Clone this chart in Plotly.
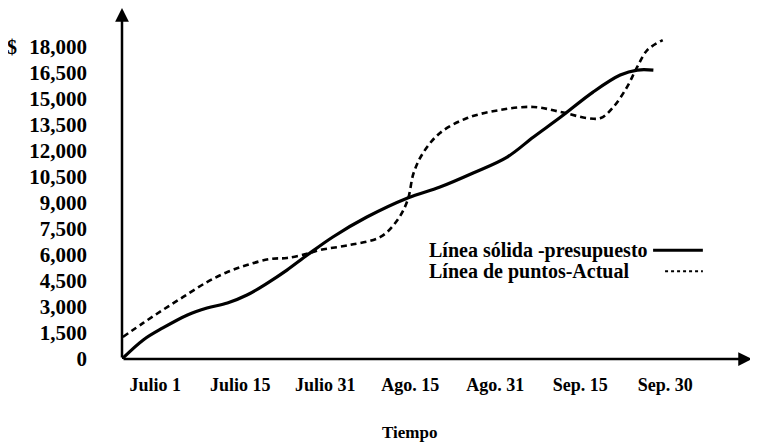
"""Presupuesto vs. actual: budget (solid) and actual (dotted) cumulative spend."""

import plotly.graph_objects as go

# x positions: 1 = Julio 1 ... 7 = Sep. 30
PERIOD_LABELS = ["Julio 1", "Julio 15", "Julio 31", "Ago. 15", "Ago. 31", "Sep. 15", "Sep. 30"]
PERIOD_POS = [1, 2, 3, 4, 5, 6, 7]

Y_TICKS = [0, 1500, 3000, 4500, 6000, 7500, 9000, 10500, 12000, 13500, 15000, 16500, 18000]
Y_TICK_TEXT = ["0", "1,500", "3,000", "4,500", "6,000", "7,500", "9,000", "10,500",
               "12,000", "13,500", "15,000", "16,500", "18,000"]

budget_x = [0.61, 0.86, 1.09, 1.38, 1.61, 1.85, 2.08, 2.32, 2.55, 2.79, 3.09, 3.49,
            3.97, 4.35, 4.74, 5.14, 5.45, 5.77, 6.15, 6.47, 6.67, 6.86]
budget_y = [0, 1100, 1790, 2540, 2940, 3230, 3690, 4380, 5130, 6000, 7040, 8190,
            9290, 9920, 10730, 11650, 12810, 13960, 15400, 16380, 16670, 16670]

actual_x = [0.62, 0.86, 1.09, 1.33, 1.61, 1.85, 2.08, 2.35, 2.55, 2.82, 2.94, 3.29,
            3.65, 3.85, 3.97, 4.04, 4.15, 4.35, 4.67, 5.06, 5.45, 5.77, 6.08, 6.24,
            6.39, 6.55, 6.67, 6.79, 6.97]
actual_y = [1270, 2080, 2830, 3580, 4440, 5020, 5420, 5770, 5830, 6110, 6290, 6580,
            7040, 8020, 9170, 10730, 11880, 13040, 13900, 14370, 14540, 14250, 13900,
            13900, 14540, 15690, 16850, 17830, 18400]

X_MIN, X_MAX = 0.61, 8.02
Y_MAX = 20250

SERIF = "Liberation Serif, Times New Roman, serif"
FONT = dict(family=SERIF, size=17, color="black", weight="bold")
X_FONT = dict(family=SERIF, size=18, color="black", weight="bold")
Y_FONT = dict(family=SERIF, size=21, color="black")
LEGEND_FONT = dict(family=SERIF, size=20, color="black", weight="bold")

fig = go.Figure()
fig.add_trace(go.Scatter(
    x=budget_x, y=budget_y, mode="lines", line_shape="spline",
    line=dict(color="black", width=3.2), name="Línea sólida -presupuesto",
))
fig.add_trace(go.Scatter(
    x=actual_x, y=actual_y, mode="lines", line_shape="spline",
    line=dict(color="black", width=2.6, dash="6px,4px"), name="Línea de puntos-Actual",
))

# axes drawn as arrows
fig.add_annotation(x=X_MIN, y=Y_MAX, ax=X_MIN, ay=0, xref="x", yref="y", axref="x", ayref="y",
                   showarrow=True, arrowhead=2, arrowsize=1.1, arrowwidth=2.5,
                   arrowcolor="black", text="")
fig.add_annotation(x=X_MAX, y=0, ax=X_MIN, ay=0, xref="x", yref="y", axref="x", ayref="y",
                   showarrow=True, arrowhead=2, arrowsize=1.1, arrowwidth=2.5,
                   arrowcolor="black", text="")

fig.add_annotation(x=-0.175, y=18000, xref="paper", yref="y", text="$", showarrow=False,
                   font=dict(family=SERIF, size=20, color="black", weight="bold"),
                   xanchor="center", yanchor="middle")
fig.add_annotation(x=0.457, y=-0.208, xref="paper", yref="paper", text="Tiempo",
                   showarrow=False, font=FONT, xanchor="center", yanchor="middle")

# legend: text followed by a line sample
fig.add_annotation(x=0.484, y=0.31, xref="paper", yref="paper",
                   text="Línea sólida -presupuesto", showarrow=False, font=LEGEND_FONT,
                   xanchor="left", yanchor="middle")
fig.add_annotation(x=0.484, y=0.25, xref="paper", yref="paper",
                   text="Línea de puntos-Actual", showarrow=False, font=LEGEND_FONT,
                   xanchor="left", yanchor="middle")
fig.add_shape(type="line", xref="paper", yref="paper", x0=0.843, x1=0.922, y0=0.31, y1=0.31,
              line=dict(color="black", width=3))
fig.add_shape(type="line", xref="paper", yref="paper", x0=0.862, x1=0.922, y0=0.25, y1=0.25,
              line=dict(color="black", width=2.2, dash="3px,3px"))

# the page body adds an 8px margin, so the figure is 8px smaller each way
fig.update_layout(
    width=750, height=434,
    margin=dict(l=114, r=6, t=0, b=83),
    paper_bgcolor="white", plot_bgcolor="white",
    showlegend=False,
    font=FONT,
    xaxis=dict(range=[X_MIN, X_MAX], tickvals=PERIOD_POS, ticktext=PERIOD_LABELS,
               showgrid=False, zeroline=False, showline=False, ticks="",
               ticklabelstandoff=13, tickfont=X_FONT, automargin=False),
    yaxis=dict(range=[0, Y_MAX], tickvals=Y_TICKS, ticktext=Y_TICK_TEXT,
               showgrid=False, zeroline=False, showline=False, ticks="",
               ticklabelstandoff=34, tickfont=Y_FONT, automargin=False),
)

fig.write_html("out.html")
